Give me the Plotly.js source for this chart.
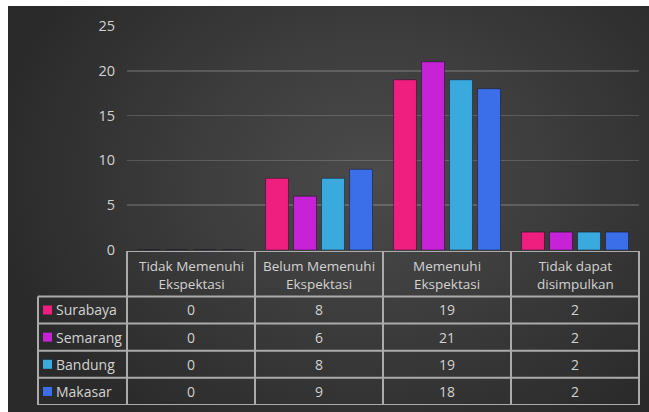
<!DOCTYPE html>
<html>
<head>
<meta charset="utf-8">
<script src="https://cdn.plot.ly/plotly-3.0.1.min.js"></script>
<style>
  html, body { margin: 0; padding: 0; background: #ffffff; width: 649px; height: 412px; overflow: hidden; }
  #wrap {
    position: absolute; left: 8px; top: 6px; width: 641px; height: 406px;
    background: radial-gradient(ellipse 60% 75% at 57% 42%, #4b4b4b 0%, #3d3d3d 45%, #2a2a2a 100%);
  }
  #chart { width: 641px; height: 406px; }
</style>
</head>
<body>
<div id="wrap"><div id="chart"></div></div>
<script>
// ---- data ----
const categories = ['Tidak Memenuhi Ekspektasi', 'Belum Memenuhi Ekspektasi', 'Memenuhi Ekspektasi', 'Tidak dapat disimpulkan'];
const headerLabels = ['Tidak Memenuhi<br>Ekspektasi', 'Belum Memenuhi<br>Ekspektasi', 'Memenuhi<br>Ekspektasi', 'Tidak dapat<br>disimpulkan'];
const seriesNames = ['Surabaya', 'Semarang', 'Bandung', 'Makasar'];
const surabaya = [0, 8, 19, 2];
const semarang = [0, 6, 21, 2];
const bandung  = [0, 8, 19, 2];
const makasar  = [0, 9, 18, 2];
const yTicks = [0, 5, 10, 15, 20, 25];

// ---- styles ----
const colors = ['#ee1f7e', '#c622d6', '#3aa9de', '#3b6fea'];
const seriesValues = [surabaya, semarang, bandung, makasar];
const textColor = '#d2d2d2';
const lineColor = '#ababab';
const fontFamily = '"Open Sans", Lato, sans-serif';

// table geometry (in yaxis2 units = px, top down)
const headerH = 46, rowH = 27.5;
const tableH = headerH + rowH * seriesNames.length;
const legendColFrac = 89 / 512;   // legend column width relative to the plot width
const nCat = categories.length;

const traces = seriesValues.map((vals, i) => ({
  type: 'bar',
  name: seriesNames[i],
  x: categories,
  y: vals,
  marker: { color: colors[i], line: { color: 'rgba(10,10,30,0.45)', width: 1 } },
  hoverinfo: 'skip'
}));

const shapes = [];
const annotations = [];
const line = { color: lineColor, width: 2 };

// horizontal table lines
shapes.push({ type: 'line', xref: 'x domain', yref: 'y2', x0: 0, x1: 1, y0: 0, y1: 0, line });
for (let r = 0; r <= seriesNames.length; r++) {
  const y = headerH + r * rowH;
  shapes.push({ type: 'line', xref: 'x domain', yref: 'y2', x0: -legendColFrac, x1: 1, y0: y, y1: y, line });
}
// vertical table lines
shapes.push({ type: 'line', xref: 'x domain', yref: 'y2', x0: -legendColFrac, x1: -legendColFrac, y0: headerH, y1: tableH, line });
for (let c = 0; c <= nCat; c++) {
  const x = c / nCat;
  shapes.push({ type: 'line', xref: 'x domain', yref: 'y2', x0: x, x1: x, y0: 0, y1: tableH, line });
}

// header labels
categories.forEach((cat, j) => {
  annotations.push({
    xref: 'x', yref: 'y2', x: cat, y: headerH / 2 + 1, text: headerLabels[j],
    showarrow: false, align: 'center', xanchor: 'center', yanchor: 'middle',
    font: { family: fontFamily, size: 13.5, color: textColor }
  });
});

// rows: legend key + name + values
seriesNames.forEach((name, i) => {
  const yc = headerH + i * rowH + rowH / 2;
  shapes.push({
    type: 'rect', xref: 'x domain', yref: 'y2', xsizemode: 'pixel', ysizemode: 'pixel',
    xanchor: -legendColFrac, yanchor: yc, x0: 5, x1: 14, y0: -4.5, y1: 4.5,
    fillcolor: colors[i], line: { width: 0 }
  });
  annotations.push({
    xref: 'x domain', yref: 'y2', x: -legendColFrac, xshift: 16, y: yc, text: name,
    showarrow: false, xanchor: 'left', yanchor: 'middle',
    font: { family: fontFamily, size: 14, color: textColor }
  });
  categories.forEach((cat, j) => {
    annotations.push({
      xref: 'x', yref: 'y2', x: cat, y: yc, text: String(seriesValues[i][j]),
      showarrow: false, xanchor: 'center', yanchor: 'middle',
      font: { family: fontFamily, size: 14, color: textColor }
    });
  });
});

const layout = {
  width: 641,
  height: 406,
  margin: { l: 30, r: 10, t: 20, b: 0 },
  paper_bgcolor: 'rgba(0,0,0,0)',
  plot_bgcolor: 'rgba(0,0,0,0)',
  showlegend: false,
  barmode: 'group',
  bargap: 0.125,
  bargroupgap: 0.18,
  font: { family: fontFamily, color: textColor },
  xaxis: {
    domain: [0.14809, 1],
    showticklabels: false,
    showgrid: false,
    zeroline: false,
    showline: false,
    fixedrange: true
  },
  yaxis: {
    domain: [0.4197, 1],
    range: [0, 25],
    tickvals: yTicks,
    ticktext: yTicks.map(String),
    tickfont: { family: fontFamily, size: 14.5, color: textColor },
    showgrid: true,
    gridcolor: 'rgba(255,255,255,0.17)',
    gridwidth: 1.5,
    zeroline: false,
    showline: false,
    ticks: '',
    ticklabelstandoff: 11,
    fixedrange: true
  },
  yaxis2: {
    domain: [0.0181, 0.4171],
    range: [tableH, 0],
    anchor: 'x',
    showticklabels: false,
    showgrid: false,
    zeroline: false,
    showline: false,
    fixedrange: true
  },
  shapes,
  annotations
};

Plotly.newPlot('chart', traces, layout, { staticPlot: true, displayModeBar: false });
</script>
</body>
</html>
